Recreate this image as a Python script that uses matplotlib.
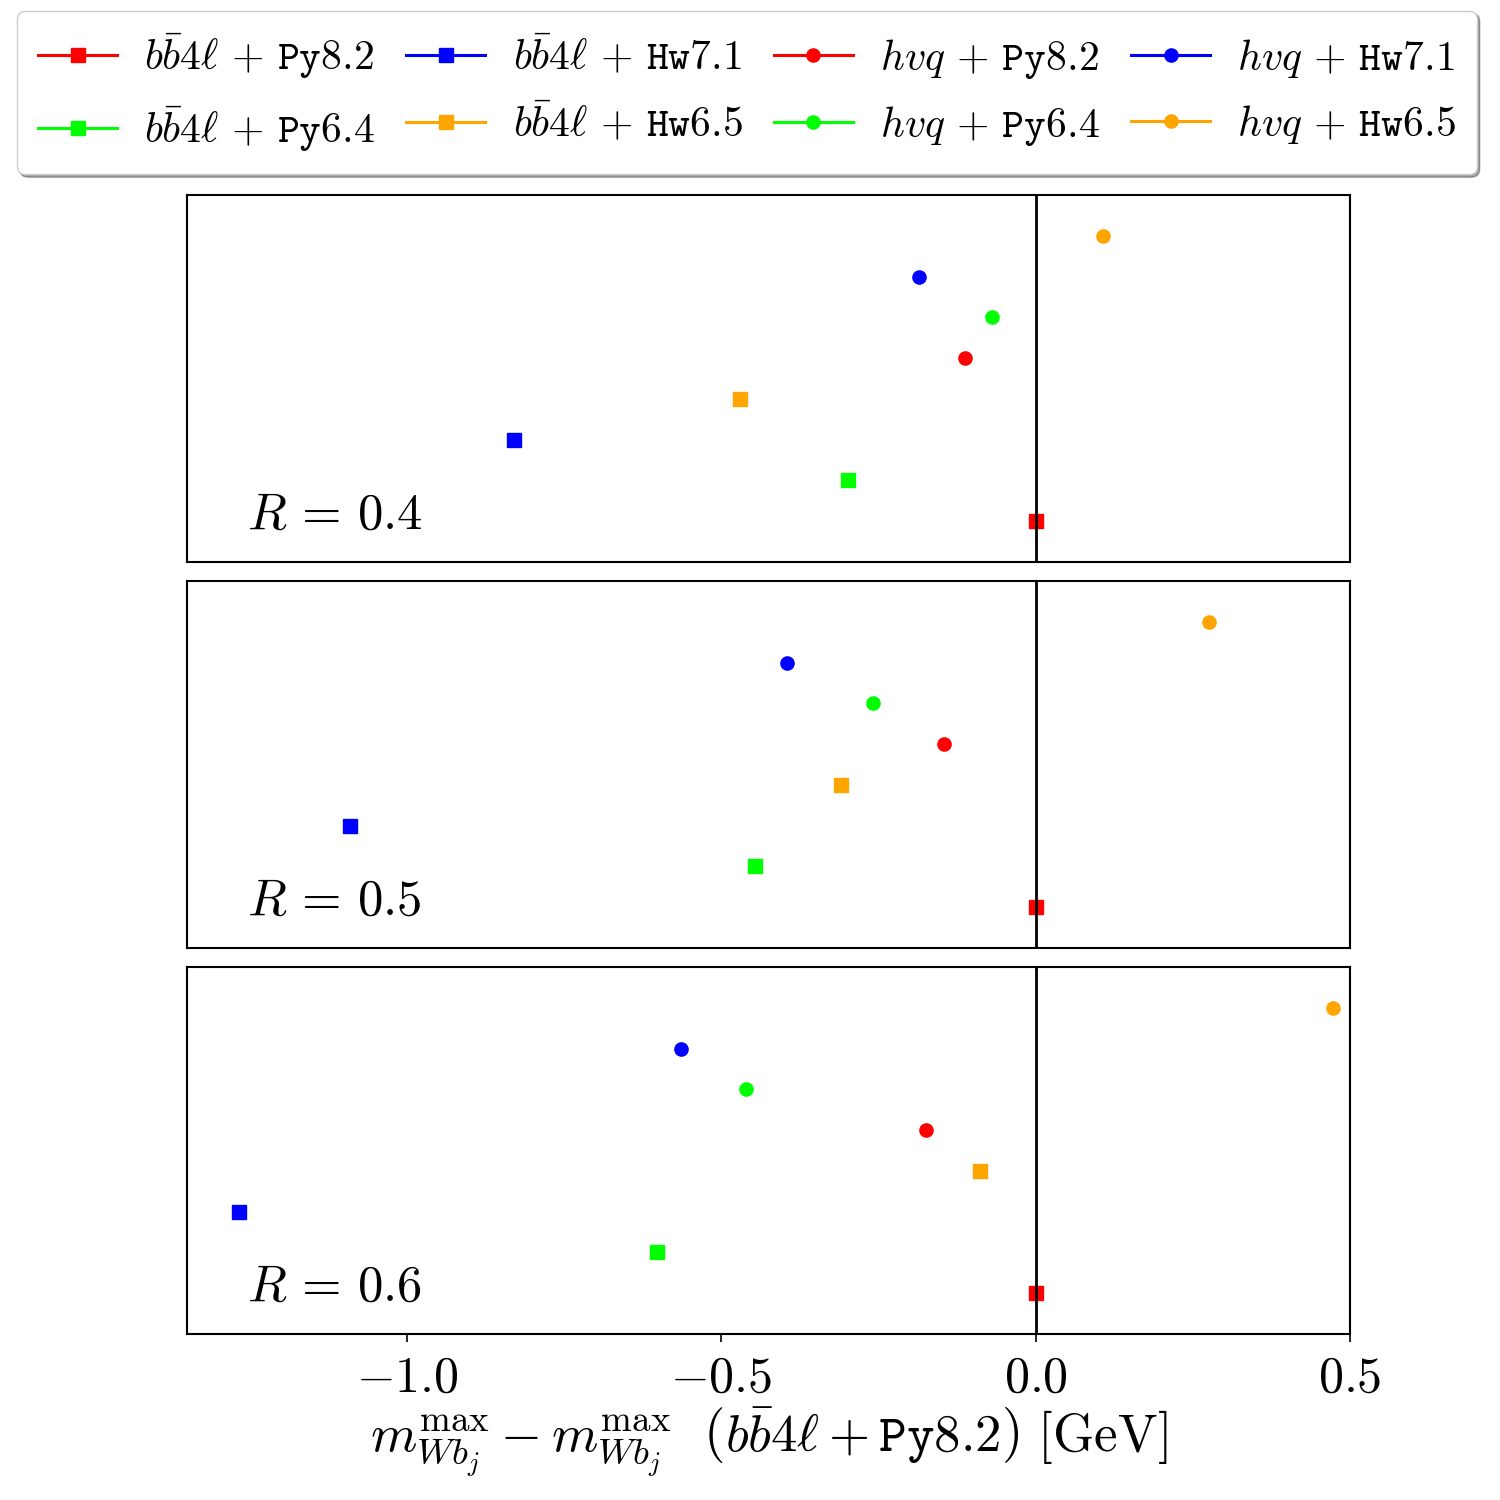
import numpy as np
import matplotlib.pyplot as plt

plt.rcParams['mathtext.fontset'] = 'cm'
plt.rcParams['font.family'] = 'serif'
plt.rcParams['font.serif'] = ['DejaVu Serif']

# series labels (legend order) and styles
labels = [r'$b\bar{b}4\ell\,+\,\mathtt{Py8.2}$', r'$b\bar{b}4\ell\,+\,\mathtt{Py6.4}$',
          r'$b\bar{b}4\ell\,+\,\mathtt{Hw7.1}$', r'$b\bar{b}4\ell\,+\,\mathtt{Hw6.5}$',
          r'$hvq\,+\,\mathtt{Py8.2}$', r'$hvq\,+\,\mathtt{Py6.4}$',
          r'$hvq\,+\,\mathtt{Hw7.1}$', r'$hvq\,+\,\mathtt{Hw6.5}$']
colors = ['#ff0000', '#00ff00', '#0000ff', '#ffa500'] * 2
markers = ['s'] * 4 + ['o'] * 4
# vertical slot of each series inside a panel
slots = [0, 1, 2, 3, 4, 5, 6, 7]

radii = ['0.4', '0.5', '0.6']
# shift w.r.t. bb4l + Py8.2 [GeV]
shift_R04 = [0.0, -0.299, -0.830, -0.470, -0.113, -0.070, -0.185, 0.107]
shift_R05 = [0.0, -0.446, -1.091, -0.309, -0.146, -0.258, -0.396, 0.275]
shift_R06 = [0.0, -0.602, -1.268, -0.089, -0.175, -0.460, -0.564, 0.473]
shifts = [shift_R04, shift_R05, shift_R06]

fig = plt.figure(figsize=(15, 15), dpi=100)
left, right = 187 / 1500, 1350 / 1500
tops = [195, 581, 967]
h = 367
axes = []
for k in range(3):
    ax = fig.add_axes([left, 1 - (tops[k] + h) / 1500, right - left, h / 1500])
    axes.append(ax)
    handles = []
    for i in range(8):
        ln, = ax.plot([shifts[k][i]], [slots[i]], marker=markers[i], color=colors[i],
                      ls='-', lw=2.2, ms=9.5, label=labels[i])
        handles.append(ln)
    ax.axvline(0, color='k', lw=2)
    ax.set_xlim(-1.35, 0.5)
    ax.set_ylim(-1, 8)
    ax.set_yticks([])
    for s in ax.spines.values():
        s.set_linewidth(1.5)
    ax.text(0.052, 0.09, r'$R\,=\,%s$' % radii[k], transform=ax.transAxes,
            fontsize=36.5, ha='left', va='baseline')
    if k < 2:
        ax.set_xticks([])
    else:
        ax.set_xticks([-1.0, -0.5, 0.0, 0.5])
        ax.set_xticklabels([r'$-1.0$', r'$-0.5$', r'$0.0$', r'$0.5$'])
        ax.tick_params(axis='x', labelsize=36, length=6, width=1.2, pad=8)
        ax.set_xlabel(r'$m_{Wb_j}^{\mathrm{max}} - m_{Wb_j}^{\mathrm{max}}\ \ \left(b\bar{b}4\ell+\mathtt{Py8.2}\right)\ \mathrm{[GeV]}$',
                      fontsize=38, labelpad=2)

fig.legend(handles=handles, labels=labels, loc='upper center', bbox_to_anchor=(0.498, 0.993),
           borderaxespad=0, ncol=4, fontsize=30, fancybox=True, shadow=True, handlelength=1.9,
           columnspacing=0.75, handletextpad=0.65, borderpad=0.5, labelspacing=0.55)

fig.savefig('out.png', dpi=100)
